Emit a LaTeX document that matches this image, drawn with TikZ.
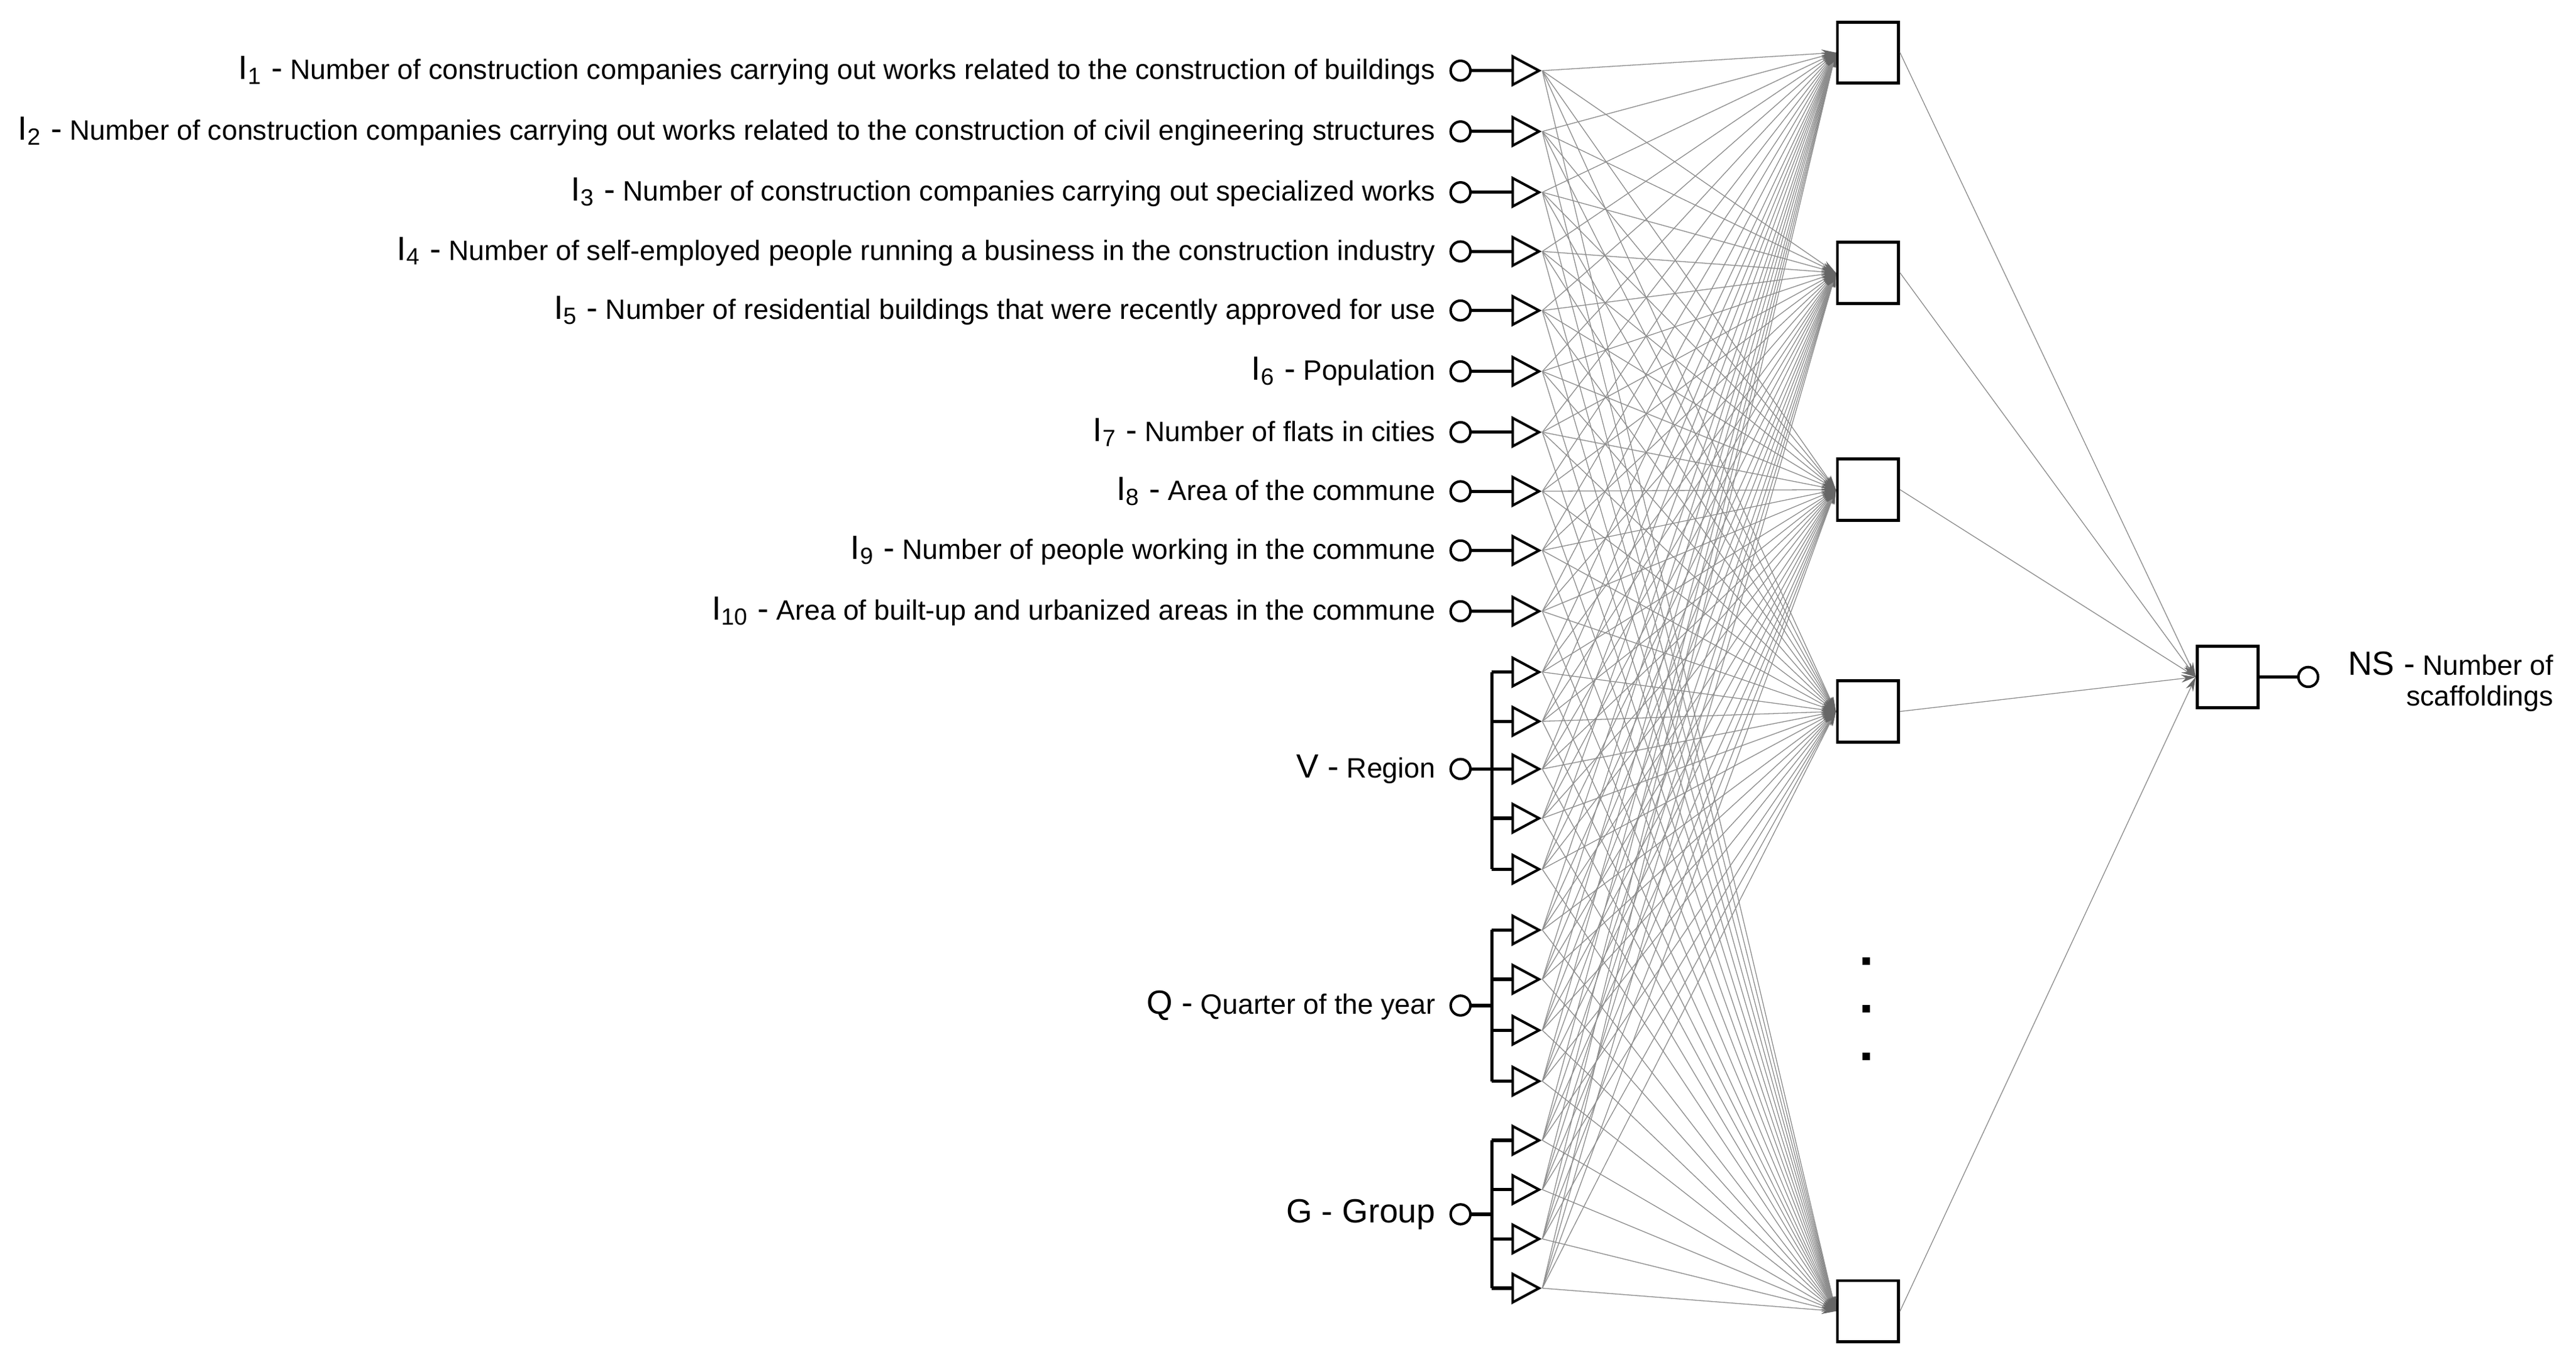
\documentclass[tikz,border=0pt]{standalone}
\usepackage{fontspec}
\setmainfont{Liberation Sans}
\usetikzlibrary{shapes.geometric,arrows.meta}
\newcommand{\BigL}[1]{{\fontsize{14.5}{15}\selectfont #1}}
\begin{document}
\begin{tikzpicture}[x=0.025cm,y=-0.025cm,
  lab/.style={anchor=east,inner sep=0pt,font=\fontsize{12.1}{14}\selectfont},
  ci/.style={circle,draw,line width=1.1pt,minimum size=3mm,inner sep=0pt},
  tri/.style={isosceles triangle,isosceles triangle stretches,draw,line width=1.1pt,minimum width=4.3mm,minimum height=4mm,inner sep=0pt,anchor=lower side},
  blk/.style={line width=1.4pt},
  box/.style={rectangle,draw,line width=1.3pt,minimum size=9.3mm,inner sep=0pt},
  conn/.style={draw=black!45,line width=0.35pt,-{Stealth[length=2.2mm,width=1.2mm,color=black!60]}},
  dot/.style={rectangle,fill=black,minimum size=1.1mm,inner sep=0pt}]
\useasboundingbox (0,0) rectangle (1568,830);
% simple inputs
\foreach \i/\y/\t in {
 1/43/{Number of construction companies carrying out works related to the construction of buildings},
 2/80/{Number of construction companies carrying out works related to the construction of civil engineering structures},
 3/117/{Number of construction companies carrying out specialized works},
 4/153/{Number of self-employed people running a business in the construction industry},
 5/189/{Number of residential buildings that were recently approved for use},
 6/226/{Population},
 7/263/{Number of flats in cities},
 8/299/{Area of the commune},
 9/335/{Number of people working in the commune},
 10/372/{Area of built-up and urbanized areas in the commune}}{
  \node[lab] (l\i) at (874,\y) {\BigL{I\textsubscript{\i}~-}~\t};
  \node[ci] (c\i) at (889,\y) {};
  \node[tri] (t\i) at (920,\y) {};
  \draw[blk] (c\i) -- (t\i.lower side);
}
% grouped inputs
\foreach \g/\cy/\ys/\txt in {
  V/468/{409,439,468,498,529}/{\BigL{V~-}~Region},
  Q/612/{566,596,627,658}/{\BigL{Q~-}~Quarter of the year},
  G/739/{694,724,754,784}/{\BigL{G~-~Group}}}{
  \node[lab] (l\g) at (874,\cy) {\txt};
  \node[ci] (c\g) at (889,\cy) {};
  \coordinate (b\g) at (908,\cy);
  \draw[blk] (c\g) -- (b\g);
  \foreach \y [count=\k] in \ys {
    \node[tri] (t\g\k) at (920,\y) {};
    \draw[blk] (t\g\k.lower side -| b\g) -- (t\g\k.lower side);
  }
}
\draw[blk] (tV1.lower side -| bV) -- (tV5.lower side -| bV);
\draw[blk] (tQ1.lower side -| bQ) -- (tQ4.lower side -| bQ);
\draw[blk] (tG1.lower side -| bG) -- (tG4.lower side -| bG);
% hidden layer
\foreach \h/\y in {1/32,2/166,3/298,4/433,5/798}
  \node[box] (h\h) at (1137,\y) {};
\foreach \k/\y in {1/585,2/614,3/643}
  \node[dot] (d\k) at (1136,\y) {};
% connections
\foreach \t in {t1,t2,t3,t4,t5,t6,t7,t8,t9,t10,tV1,tV2,tV3,tV4,tV5,tQ1,tQ2,tQ3,tQ4,tG1,tG2,tG3,tG4}
  \foreach \h in {1,...,5}
    \draw[conn] (\t.apex) -- (h\h.west);
% output
\node[box] (o) at (1356,412) {};
\node[ci] (oc) at (1405,412) {};
\draw[blk] (o) -- (oc);
\foreach \h in {1,...,5}
  \draw[conn] (h\h.east) -- (o.west);
\node[anchor=west,inner sep=0pt,font=\fontsize{12.1}{14}\selectfont] (ns) at (1429,404) {\BigL{NS~-}~Number of};
\node[anchor=east,inner sep=0pt,font=\fontsize{12.1}{14}\selectfont] (ns2) at (ns.east |- 0,425) {scaffoldings};
\end{tikzpicture}
\end{document}
